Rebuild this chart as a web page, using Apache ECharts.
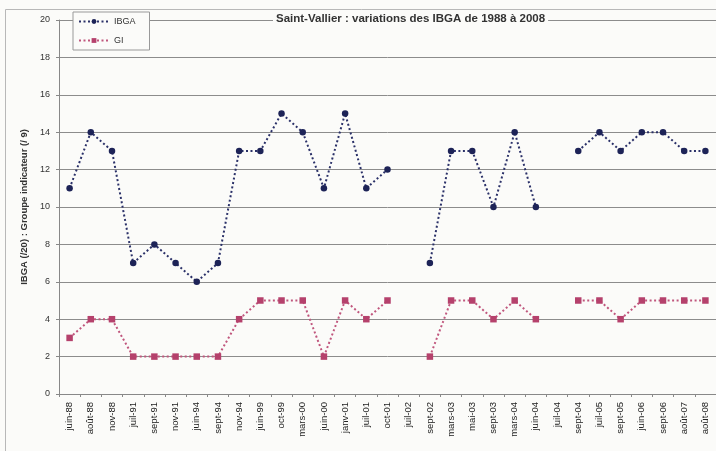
<!DOCTYPE html>
<html lang="fr">
<head>
    <meta charset="utf-8">
    <title>Saint-Vallier IBGA</title>
    <script src="https://cdn.jsdelivr.net/npm/echarts@6/dist/echarts.min.js"></script>
    <style type="text/css">
        html, body { margin: 0; padding: 0; background: #fbfbf9; }
        #main { width: 716px; height: 451px; }
    </style>
</head>
<body>
    <div id="main"></div>
    <script type="text/javascript">
        var dates = ['juin-88', 'août-88', 'nov-88', 'juil-91', 'sept-91', 'nov-91', 'juin-94', 'sept-94',
            'nov-94', 'juin-99', 'oct-99', 'mars-00', 'juin-00', 'janv-01', 'juil-01', 'oct-01', 'juil-02',
            'sept-02', 'mars-03', 'mai-03', 'sept-03', 'mars-04', 'juin-04', 'juil-04', 'sept-04', 'juil-05',
            'sept-05', 'juin-06', 'sept-06', 'août-07', 'août-08'];
        var ibga = [11, 14, 13, 7, 8, 7, 6, 7, 13, 13, 15, 14, 11, 15, 11, 12, null,
            7, 13, 13, 10, 14, 10, null, 13, 14, 13, 14, 14, 13, 13];
        var gi = [3, 4, 4, 2, 2, 2, 2, 2, 4, 5, 5, 5, 2, 5, 4, 5, null,
            2, 5, 5, 4, 5, 4, null, 5, 5, 4, 5, 5, 5, 5];

        var chartDom = document.getElementById('main');
        var myChart = echarts.init(chartDom);
        var option = {
            backgroundColor: '#fbfbf9',
            animation: false,
            textStyle: { fontFamily: 'Liberation Sans, Arial, sans-serif' },
            graphic: [
                {
                    type: 'rect',
                    shape: { x: 5.5, y: 9.5, width: 730, height: 460 },
                    style: { fill: 'none', stroke: '#b8b8b8', lineWidth: 1 },
                    z: -1
                }
            ],
            title: {
                text: 'Saint-Vallier : variations des IBGA de 1988 à 2008',
                left: 273,
                top: 13,
                padding: [0, 3],
                backgroundColor: '#fbfbf9',
                textStyle: { fontSize: 11.5, fontWeight: 'bold', color: '#333', fontFamily: 'Liberation Sans, Arial, sans-serif' }
            },
            legend: {
                orient: 'vertical',
                left: 73,
                top: 12,
                itemWidth: 30,
                itemHeight: 6,
                itemGap: 10,
                padding: [5, 14, 5, 5],
                backgroundColor: '#fbfbf9',
                borderColor: '#999',
                borderWidth: 1,
                borderRadius: 0,
                textStyle: { fontSize: 9, color: '#333' },
                data: ['IBGA', 'GI']
            },
            grid: { left: 59, right: 0, top: 20, bottom: 57 },
            xAxis: {
                type: 'category',
                data: dates,
                boundaryGap: true,
                axisLine: { lineStyle: { color: '#888' } },
                axisTick: { show: true, length: 3, lineStyle: { color: '#888' } },
                axisLabel: { rotate: 90, fontSize: 9.5, color: '#222', interval: 0, margin: 8 }
            },
            yAxis: {
                type: 'value',
                min: 0,
                max: 20,
                interval: 2,
                name: 'IBGA (/20) : Groupe indicateur (/ 9)',
                nameLocation: 'middle',
                nameGap: 28,
                nameTextStyle: { fontSize: 9.5, fontWeight: 'bold', color: '#333' },
                axisLine: { show: true, lineStyle: { color: '#888' } },
                axisTick: { show: true, length: 3, lineStyle: { color: '#888' } },
                axisLabel: { fontSize: 9, color: '#333', margin: 9 },
                splitLine: { lineStyle: { color: '#8c8c8c', width: 1 } }
            },
            series: [
                {
                    name: 'IBGA',
                    type: 'line',
                    data: ibga,
                    connectNulls: false,
                    symbol: 'circle',
                    symbolSize: 6.5,
                    itemStyle: { color: '#1d2357' },
                    lineStyle: { color: '#2a3068', width: 2, type: [2, 2.5] }
                },
                {
                    name: 'GI',
                    type: 'line',
                    data: gi,
                    connectNulls: false,
                    symbol: 'rect',
                    symbolSize: 6.5,
                    itemStyle: { color: '#b5416c' },
                    lineStyle: { color: '#c0567d', width: 2, type: [2, 2.5] }
                }
            ]
        };
        option && myChart.setOption(option);
    </script>
</body>
</html>
